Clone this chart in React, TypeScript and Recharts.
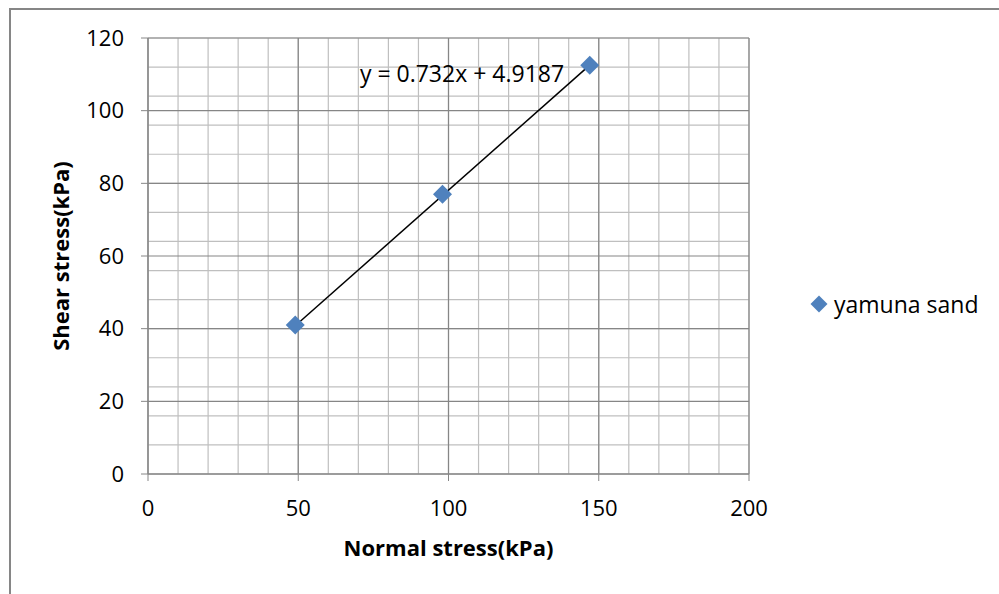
import React from 'react';
import {
  ScatterChart,
  Scatter,
  XAxis,
  YAxis,
  CartesianGrid,
  Legend,
  ReferenceDot,
} from 'recharts';

// measured points
const normalStress = [49, 98, 147];
const shearStress = [41, 77, 112.5];

// linear trendline end points (y = 0.732x + 4.9187)
const trendX = [49, 147];
const trendY = [40.79, 112.52];
const trendLabel = 'y = 0.732x + 4.9187';

const xTicks = [0, 50, 100, 150, 200];
const yTicks = [0, 20, 40, 60, 80, 100, 120];
const xMinor = [0, 10, 20, 30, 40, 50, 60, 70, 80, 90, 100, 110, 120, 130, 140, 150, 160, 170, 180, 190, 200];
const yMinor = [
  0, 4, 8, 12, 16, 20, 24, 28, 32, 36, 40, 44, 48, 52, 56, 60, 64, 68, 72, 76, 80, 84, 88, 92, 96, 100,
  104, 108, 112, 116, 120,
];

const seriesName = 'yamuna sand';

const points = normalStress.map((x, i) => ({ x, y: shearStress[i] }));
const trend = trendX.map((x, i) => ({ x, y: trendY[i] }));

const FONT = '"Open Sans", Lato, sans-serif';
const BLUE = '#4F81BD';
const AXIS = '#868686';

const Diamond = (props: any) => {
  const { cx, cy } = props;
  const r = 9.5;
  return (
    <polygon
      points={`${cx},${cy - r} ${cx + r},${cy} ${cx},${cy + r} ${cx - r},${cy}`}
      fill={BLUE}
    />
  );
};

const renderLegend = () => (
  <div style={{ display: 'flex', alignItems: 'center', fontFamily: FONT, fontSize: 23, color: '#000' }}>
    <svg width={18} height={18} style={{ marginRight: 6 }}>
      <polygon points="9,0.5 17.5,9 9,17.5 0.5,9" fill={BLUE} />
    </svg>
    <span>{seriesName}</span>
  </div>
);

export default function App() {
  return (
    <div style={{ position: 'absolute', left: 0, top: 0, width: 999, height: 594, background: '#fff' }}>
      <div
        style={{
          position: 'absolute',
          left: 9,
          top: 8,
          width: 1000,
          height: 600,
          borderLeft: `2px solid ${AXIS}`,
          borderTop: `2px solid ${AXIS}`,
        }}
      />
      <div style={{ position: 'absolute', left: 0, top: 0 }}>
        <ScatterChart width={999} height={594} margin={{ top: 38, right: 250, bottom: 30, left: 10 }}>
          <CartesianGrid
            stroke="#bfbfbf"
            strokeWidth={1.2}
            verticalValues={xMinor}
            horizontalValues={yMinor}
          />
          <CartesianGrid stroke={AXIS} strokeWidth={1.2} verticalValues={xTicks} horizontalValues={yTicks} />
          <XAxis
            type="number"
            dataKey="x"
            domain={[0, 200]}
            ticks={xTicks}
            height={90}
            stroke={AXIS}
            tickSize={7}
            tickMargin={19}
            tick={{ fill: '#000', fontSize: 22, fontFamily: FONT }}
            label={{
              value: 'Normal stress(kPa)',
              position: 'center',
              dy: 29,
              style: { fill: '#000', fontSize: 22, fontWeight: 'bold', fontFamily: FONT },
            }}
          />
          <YAxis
            type="number"
            dataKey="y"
            domain={[0, 120]}
            ticks={yTicks}
            width={138}
            stroke={AXIS}
            tickSize={7}
            tickMargin={17}
            tick={{ fill: '#000', fontSize: 22, fontFamily: FONT }}
            label={{
              value: 'Shear stress(kPa)',
              angle: -90,
              position: 'center',
              dx: -18,
              style: { fill: '#000', fontSize: 22, fontWeight: 'bold', fontFamily: FONT },
            }}
          />
          <Scatter
            data={trend}
            line={{ stroke: '#000', strokeWidth: 1.5 }}
            shape={() => <g />}
            legendType="none"
            isAnimationActive={false}
          />
          <Scatter name={seriesName} data={points} fill={BLUE} shape={Diamond} isAnimationActive={false} />
          <ReferenceDot
            x={104.5}
            y={110}
            r={0}
            fill="none"
            stroke="none"
            label={{
              value: trendLabel,
              position: 'center',
              style: { fill: '#000', fontSize: 23, fontFamily: FONT },
            }}
          />
          <Legend
            layout="vertical"
            align="center"
            verticalAlign="middle"
            content={renderLegend}
            wrapperStyle={{ left: 810, top: 288, width: 185 }}
          />
        </ScatterChart>
      </div>
    </div>
  );
}
